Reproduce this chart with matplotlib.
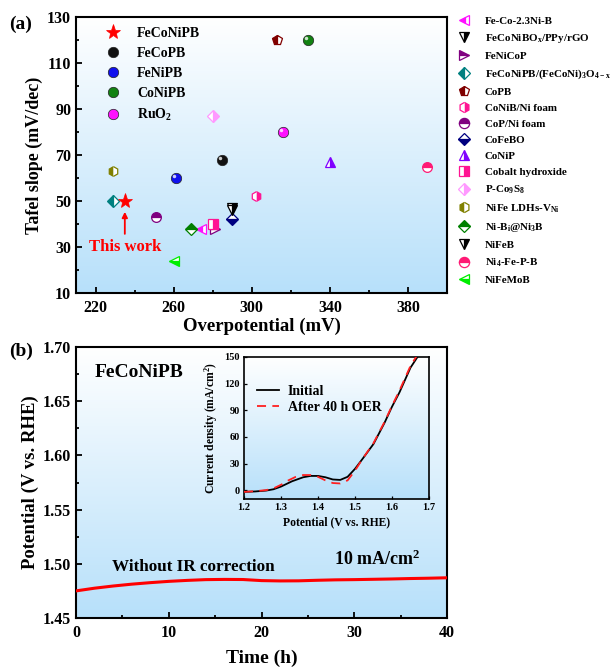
import numpy as np
import matplotlib
matplotlib.use("Agg")
import matplotlib.pyplot as plt
from matplotlib.colors import LinearSegmentedColormap

plt.rcParams['font.family'] = ['Liberation Serif', 'DejaVu Serif']
plt.rcParams['font.weight'] = 'bold'
plt.rcParams['mathtext.fontset'] = 'custom'
plt.rcParams['mathtext.rm'] = 'Liberation Serif:bold'
plt.rcParams['mathtext.it'] = 'Liberation Serif:bold'
plt.rcParams['mathtext.bf'] = 'Liberation Serif:bold'

# ---------------- Data: panel (a) ----------------
this_names = ['FeCoNiPB', 'FeCoPB', 'FeNiPB', 'CoNiPB', 'RuO$_2$']
this_eta = [235, 285, 261, 329, 316]
this_tafel = [50, 68, 60, 120, 80]

lit_names = ['Fe-Co-2.3Ni-B', 'FeCoNiBO$_x$/PPy/rGO', 'FeNiCoP',
             'FeCoNiPB/(FeCoNi)$_3$O$_{4-x}$', 'CoPB', 'CoNiB/Ni foam',
             'CoP/Ni foam', 'CoFeBO', 'CoNiP', 'Cobalt hydroxide',
             'P-Co$_9$S$_8$', 'NiFe LDHs-V$_{Ni}$', 'Ni-B$_i$@Ni$_3$B',
             'NiFeB', 'Ni$_4$-Fe-P-B', 'NiFeMoB']
lit_eta = [274, 290, 281, 229, 313, 302, 251, 290, 340, 280, 280, 229, 269, 290, 390, 260]
lit_tafel = [38, 47, 38, 50, 120, 52, 43, 42, 67, 40, 87, 63, 38, 46, 65, 24]

# ---------------- Data: panel (b) ----------------
time_h = [0, 2, 4, 6, 8, 10, 12, 14, 16, 18, 20, 22, 24, 26, 28, 30, 32, 34, 36, 38, 40]
potential = [1.4750, 1.4775, 1.4795, 1.4812, 1.4826, 1.4838, 1.4847, 1.4854, 1.4856, 1.4855,
             1.4845, 1.4842, 1.4843, 1.4848, 1.4852, 1.4854, 1.4857, 1.4860, 1.4864, 1.4867, 1.4871]

inset_v_init = [1.20, 1.23, 1.26, 1.28, 1.30, 1.33, 1.36, 1.38, 1.40, 1.42, 1.44, 1.46, 1.48,
                1.50, 1.52, 1.55, 1.58, 1.60, 1.62, 1.65, 1.672]
inset_j_init = [-2, -1.5, -0.5, 1, 4, 10, 14.5, 16, 16, 14.5, 12, 11.5, 15,
                24, 35, 52, 76, 94, 110, 138, 152]
inset_v_after = [1.20, 1.23, 1.26, 1.28, 1.30, 1.32, 1.34, 1.36, 1.38, 1.40, 1.42, 1.44, 1.46,
                 1.48, 1.50, 1.52, 1.55, 1.58, 1.60, 1.62, 1.65, 1.668]
inset_j_after = [-2, -1.2, 0, 2, 6, 11, 15, 17, 17, 15, 11, 8, 7.5,
                 11, 22, 35, 53, 77, 95, 112, 140, 152]

# ---------------- Styles ----------------
this_markers = ['*', 'o', 'o', 'o', 'o']
this_colors = ['#ff0000', '#111111', '#1010ee', '#128212', '#ff10ff']
this_sizes = [11, 7.5, 7.5, 7.5, 7.5]

lit_markers = ['<', 'v', '>', 'D', 'p', 'h', 'o', 'D', '^', 's', 'D', 'h', 'D', 'v', 'o', '<']
lit_colors = ['#ff10ff', '#000000', '#800080', '#008080', '#800000', '#ff1493',
              '#800080', '#000080', '#8000ff', '#ff1493', '#ff99ff', '#808000',
              '#008000', '#000000', '#ff1a75', '#00ee00']
lit_fill = ['left', 'right', 'top', 'left', 'left', 'right', 'top', 'bottom', 'right',
            'right', 'right', 'left', 'top', 'right', 'top', 'bottom']

fig = plt.figure(figsize=(6.16, 6.67), dpi=100)
W, H = 616, 667


def ax_px(l, t, r, b):
    return fig.add_axes([l / W, 1 - b / H, (r - l) / W, (b - t) / H])


bg_cmap = LinearSegmentedColormap.from_list('bg', ['#ffffff', '#b7e0fa'])


def gradient(ax):
    g = np.linspace(0, 1, 256).reshape(-1, 1)
    ax.imshow(g, cmap=bg_cmap, extent=[0, 1, 0, 1], transform=ax.transAxes,
              aspect='auto', zorder=-10, interpolation='bilinear', origin='upper')


def style(ax):
    for s in ax.spines.values():
        s.set_linewidth(1.5)
    ax.tick_params(direction='in', which='both', width=1.3, top=False, right=False)
    ax.tick_params(which='major', length=4.5)
    ax.tick_params(which='minor', length=2.5)


# ---------------- Panel (a) ----------------
axa = ax_px(76, 17, 447, 293)
gradient(axa)
handles_a = []
for n, x, y, m, c, s in zip(this_names, this_eta, this_tafel, this_markers, this_colors, this_sizes):
    h, = axa.plot([x], [y], linestyle='none', marker=m, markersize=s, color=c,
                  markeredgecolor=c if m == '*' else '#222222', markeredgewidth=0.5, label=n, zorder=5)
    if m == 'o':
        axa.plot([x - 1.0], [y + 0.9], linestyle='none', marker='o', markersize=2.5,
                 color='white', alpha=0.8, markeredgewidth=0, zorder=6)
    handles_a.append(h)

handles_b = []
for n, x, y, m, c, f in zip(lit_names, lit_eta, lit_tafel, lit_markers, lit_colors, lit_fill):
    ms = 7 if m in ('h', 'p', 'o') else 6.5
    if m == 'D':
        ms = 6
    h, = axa.plot([x], [y], linestyle='none', marker=m, markersize=ms, color=c,
                  fillstyle=f, markerfacecoloralt='white', markeredgecolor=c,
                  markeredgewidth=0.9, label=n, zorder=4)
    handles_b.append(h)

axa.annotate('', xy=(235, 46.5), xytext=(235, 34.5),
             arrowprops=dict(arrowstyle='-|>', color='red', lw=1.3, mutation_scale=8))
axa.text(235, 30, 'This work', color='red', fontsize=12, fontweight='bold',
         ha='center', va='center')

axa.set_xlim(210, 400)
axa.set_ylim(10, 130)
axa.set_xticks([220, 260, 300, 340, 380])
axa.set_xticks([240, 280, 320, 360, 400], minor=True)
axa.set_yticks([10, 30, 50, 70, 90, 110, 130])
axa.set_yticks([20, 40, 60, 80, 100, 120], minor=True)
axa.tick_params(labelsize=11.5)
axa.set_xlabel('Overpotential (mV)', fontsize=13.5, fontweight='bold', labelpad=1)
axa.set_ylabel('Tafel slope (mV/dec)', fontsize=13, fontweight='bold', labelpad=3)
style(axa)
axa.tick_params(axis='x', pad=5)

leg1 = axa.legend(handles=handles_a, loc='upper left', bbox_to_anchor=(0.045, 1.0),
                  frameon=False, fontsize=10, handletextpad=1.0, labelspacing=0.5,
                  borderaxespad=0.3, handlelength=1.5)
axa.add_artist(leg1)
leg2 = axa.legend(handles=handles_b, loc='upper left', bbox_to_anchor=(1.016, 1.02),
                  frameon=False, fontsize=7.9, handletextpad=1.3, labelspacing=0.58,
                  borderaxespad=0.0, handlelength=1.2, markerscale=1.05)

fig.text(9 / W, 1 - 24 / H, '(a)', fontsize=14, fontweight='bold', va='center', ha='left')

# ---------------- Panel (b) ----------------
axb = ax_px(76, 347, 447, 618)
gradient(axb)
axb.plot(time_h, potential, color='#ff0000', lw=2.2, zorder=3)
axb.set_xlim(0, 40)
axb.set_ylim(1.45, 1.70)
axb.set_xticks([0, 10, 20, 30, 40])
axb.set_xticks([5, 15, 25, 35], minor=True)
axb.set_yticks([1.45, 1.50, 1.55, 1.60, 1.65, 1.70])
axb.set_yticks([1.475, 1.525, 1.575, 1.625, 1.675], minor=True)
axb.set_yticklabels(['1.45', '1.50', '1.55', '1.60', '1.65', '1.70'])
axb.tick_params(labelsize=11.5)
axb.set_xlabel('Time (h)', fontsize=14, fontweight='bold', labelpad=6)
axb.set_ylabel('Potential (V vs. RHE)', fontsize=13.5, fontweight='bold', labelpad=3)
style(axb)
axb.tick_params(axis='x', pad=5)
axb.text(0.051, 0.905, 'FeCoNiPB', transform=axb.transAxes, fontsize=14, fontweight='bold',
         ha='left', va='center')
axb.text(0.097, 0.19, 'Without IR correction', transform=axb.transAxes, fontsize=12.3,
         fontweight='bold', ha='left', va='center')
axb.text(0.695, 0.215, '10 mA/cm$^2$', transform=axb.transAxes, fontsize=13,
         fontweight='bold', ha='left', va='center')
fig.text(9 / W, 1 - 351 / H, '(b)', fontsize=14, fontweight='bold', va='center', ha='left')

# ---------------- Inset ----------------
axi = ax_px(244, 357, 429, 499)
gradient(axi)
axi.plot(inset_v_init, inset_j_init, color='black', lw=1.3, label='Initial', zorder=3)
axi.plot(inset_v_after, inset_j_after, color='#ff2020', lw=1.3, ls=(0, (5, 3.5)),
         label='After 40 h OER', zorder=4)
axi.set_xlim(1.2, 1.7)
axi.set_ylim(-10, 150)
axi.set_xticks([1.2, 1.3, 1.4, 1.5, 1.6, 1.7])
axi.set_yticks([0, 30, 60, 90, 120, 150])
axi.tick_params(labelsize=7.5, direction='in', length=2.5, width=0.9, pad=3)
for s in axi.spines.values():
    s.set_linewidth(1.2)
axi.set_xlabel('Potential (V vs. RHE)', fontsize=8.4, fontweight='bold', labelpad=3)
axi.set_ylabel('Current density (mA/cm$^2$)', fontsize=8.4, fontweight='bold', labelpad=3)
axi.legend(loc='upper left', bbox_to_anchor=(0.04, 0.84), frameon=False, fontsize=10,
           handlelength=1.6, labelspacing=0.2, borderaxespad=0.0, handletextpad=0.6)

fig.savefig('out.png', dpi=100)
